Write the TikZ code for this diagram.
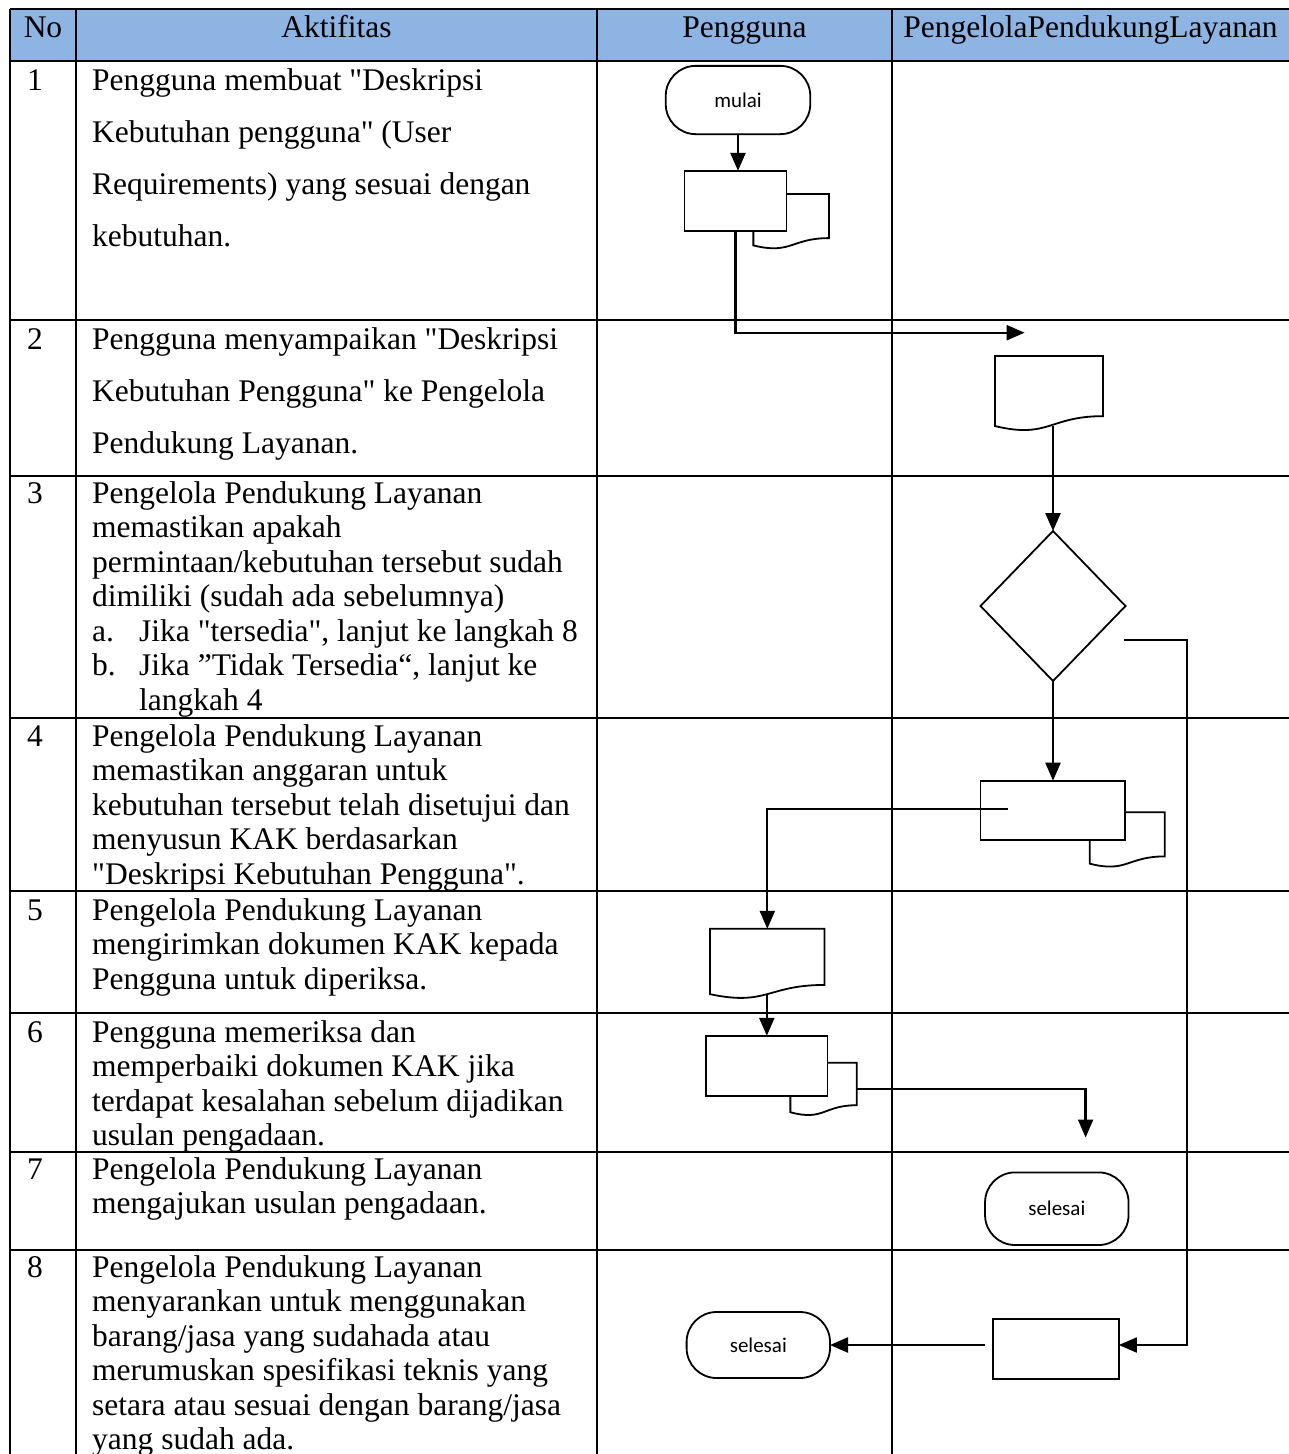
\documentclass[tikz,border=0pt]{standalone}
\usepackage{fontspec}
\setmainfont{Liberation Serif}[Ligatures=TeXOff]
\newfontfamily\flowfont{Carlito}
\usetikzlibrary{shapes.geometric, arrows.meta, calc}

\definecolor{headblue}{RGB}{142,180,227}

\newcommand{\fl}{\rule{0pt}{25pt}}
\newcommand{\docpath}[1]{%
  \filldraw[fill=white, line width=1.8pt]
    (#1.north west) -- (#1.north east)
    -- ($(#1.north east)!0.802!(#1.south east)$)
    .. controls ($(#1.north)!0.802!(#1.south)$) and ($(#1.north)!1.107!(#1.south)$)
    .. ($(#1.north west)!0.934!(#1.south west)$) -- cycle;}

\begin{document}
\begin{tikzpicture}[x=1pt,y=-1pt,
  tabline/.style={line width=1.5pt},
  txt/.style={anchor=north west, inner sep=0pt, align=left, font=\fontsize{31.5}{34.5}\selectfont},
  txtwide/.style={txt, font=\fontsize{31.5}{52}\selectfont},
  head/.style={anchor=base, inner sep=0pt, font=\fontsize{31.5}{34.5}\selectfont},
  num/.style={anchor=base west, inner sep=0pt, font=\fontsize{31.5}{34.5}\selectfont},
  proc/.style={draw, fill=white, line width=1.8pt, inner sep=0pt, outer sep=0pt},
  doc/.style={inner sep=0pt, outer sep=0pt},
  term/.style={draw, fill=white, line width=1.8pt, rounded corners=30pt, inner sep=0pt, outer sep=0pt, font=\flowfont\fontsize{21}{24}\selectfont},
  dec/.style={diamond, draw, line width=1.8pt, inner sep=0pt, outer sep=0pt},
  conn/.style={line width=2.3pt, -{Triangle[length=18pt, width=15pt]}},
  thinconn/.style={line width=1.7pt, -{Triangle[length=18pt, width=15pt]}}]

\useasboundingbox (0,0) rectangle (1289,1454);

\fill[headblue] (10,9) rectangle (1289,61);
\draw[tabline] (10,9) -- (1289,9);
\foreach \yy in {61,320,476,718,891,1013,1152,1250}
  \draw[tabline] (10,\yy) -- (1289,\yy);
\foreach \xx in {10,76,597,892}
  \draw[tabline] (\xx,9) -- (\xx,1454);

\node[head] (hNo) at (43,37) {No};
\node[head] (hAkt) at (336.5,37) {Aktifitas};
\node[head] (hPeng) at (744.5,37) {Pengguna};
\node[head] (hPPL) at (1090.5,37) {PengelolaPendukungLayanan};

\node[num] (n1) at (27,90) {1};
\node[num] (n2) at (27,349) {2};
\node[num] (n3) at (27,503) {3};
\node[num] (n4) at (27,746) {4};
\node[num] (n5) at (27,920) {5};
\node[num] (n6) at (27,1042) {6};
\node[num] (n7) at (27,1179) {7};
\node[num] (n8) at (27,1277) {8};

\node[txtwide] (t1) at (92,65) {\fl Pengguna membuat "Deskripsi\\ Kebutuhan pengguna" (User\\ Requirements) yang sesuai dengan\\ kebutuhan.};
\node[txtwide] (t2) at (92,324) {\fl Pengguna menyampaikan "Deskripsi\\ Kebutuhan Pengguna" ke Pengelola\\ Pendukung Layanan.};
\node[txt] (t3) at (92,478) {\fl Pengelola Pendukung Layanan\\ memastikan apakah\\ permintaan/kebutuhan tersebut sudah\\ dimiliki (sudah ada sebelumnya)\\ \makebox[47pt][l]{a.}Jika "tersedia", lanjut ke langkah 8\\ \makebox[47pt][l]{b.}Jika ”Tidak Tersedia“, lanjut ke\\ \hspace*{47pt}langkah 4};
\node[txt] (t4) at (92,721) {\fl Pengelola Pendukung Layanan\\ memastikan anggaran untuk\\ kebutuhan tersebut telah disetujui dan\\ menyusun KAK berdasarkan\\ "Deskripsi Kebutuhan Pengguna".};
\node[txt] (t5) at (92,895) {\fl Pengelola Pendukung Layanan\\ mengirimkan dokumen KAK kepada\\ Pengguna untuk diperiksa.};
\node[txt] (t6) at (92,1017) {\fl Pengguna memeriksa dan\\ memperbaiki dokumen KAK jika\\ terdapat kesalahan sebelum dijadikan\\ usulan pengadaan.};
\node[txt] (t7) at (92,1154) {\fl Pengelola Pendukung Layanan\\ mengajukan usulan pengadaan.};
\node[txt] (t8) at (92,1252) {\fl Pengelola Pendukung Layanan\\ menyarankan untuk menggunakan\\ barang/jasa yang sudahada atau\\ merumuskan spesifikasi teknis yang\\ setara atau sesuai dengan barang/jasa\\ yang sudah ada.};

\node[term, minimum width=144.5pt, minimum height=68.3pt] (mulai) at (738,100) {mulai};
\node[doc, minimum width=75.7pt, minimum height=55pt] (d1) at (791.2,221.5) {};
\docpath{d1}
\node[proc, minimum width=102pt, minimum height=60.3pt] (p1) at (735.5,201) {};
\node[doc, minimum width=108pt, minimum height=75pt] (d2) at (1049,393.5) {};
\docpath{d2}
\node[dec, minimum width=145pt, minimum height=150pt] (cek) at (1053,606) {};
\node[doc, minimum width=75pt, minimum height=55pt] (d4) at (1127.2,839.8) {};
\docpath{d4}
\node[proc, minimum width=144.6pt, minimum height=59.6pt] (p4) at (1052.7,810.5) {};
\node[doc, minimum width=114.5pt, minimum height=70pt] (d5) at (767.3,963.8) {};
\docpath{d5}
\node[doc, minimum width=66.3pt, minimum height=53pt] (d6) at (823.5,1089.2) {};
\docpath{d6}
\node[proc, minimum width=121.5pt, minimum height=60pt] (p6) at (766.8,1065.8) {};
\node[term, minimum width=143.5pt, minimum height=72.6pt] (sel1) at (1056.8,1208.7) {selesai};
\node[proc, minimum width=125.8pt, minimum height=60.2pt] (p8) at (1055.9,1348.9) {};
\node[term, minimum width=143.4pt, minimum height=66pt] (sel2) at (758.3,1345) {selesai};

\coordinate (c1) at (1024.6,332.7);
\coordinate (c3) at (1124,640);
\coordinate (c3b) at (1187,1345);
\coordinate (c4) at (1007.8,809);
\coordinate (c6) at (1085.6,1137.5);
\coordinate (c8) at (985,1345);
\coordinate (d2w) at ($(d2.north)!0.93!(d2.south)$);
\coordinate (d5w) at ($(d5.north)!0.93!(d5.south)$);

\draw[conn] (mulai.south) -- (mulai.south |- p1.north);
\draw[conn] (p1.south) |- (c1);
\draw[conn] (cek.north |- d2w) -- (cek.north);
\draw[conn] (cek.south) -- (cek.south |- p4.north);
\draw[thinconn] (c3) -| (c3b) -- (c3b -| p8.east);
\draw[conn] (c4) -| (d5.north);
\draw[conn] (p6.north |- d5w) -- (p6.north);
\draw[conn] (d6.east) -| (c6);
\draw[conn] (c8) -- (sel2.east);
\end{tikzpicture}
\end{document}
